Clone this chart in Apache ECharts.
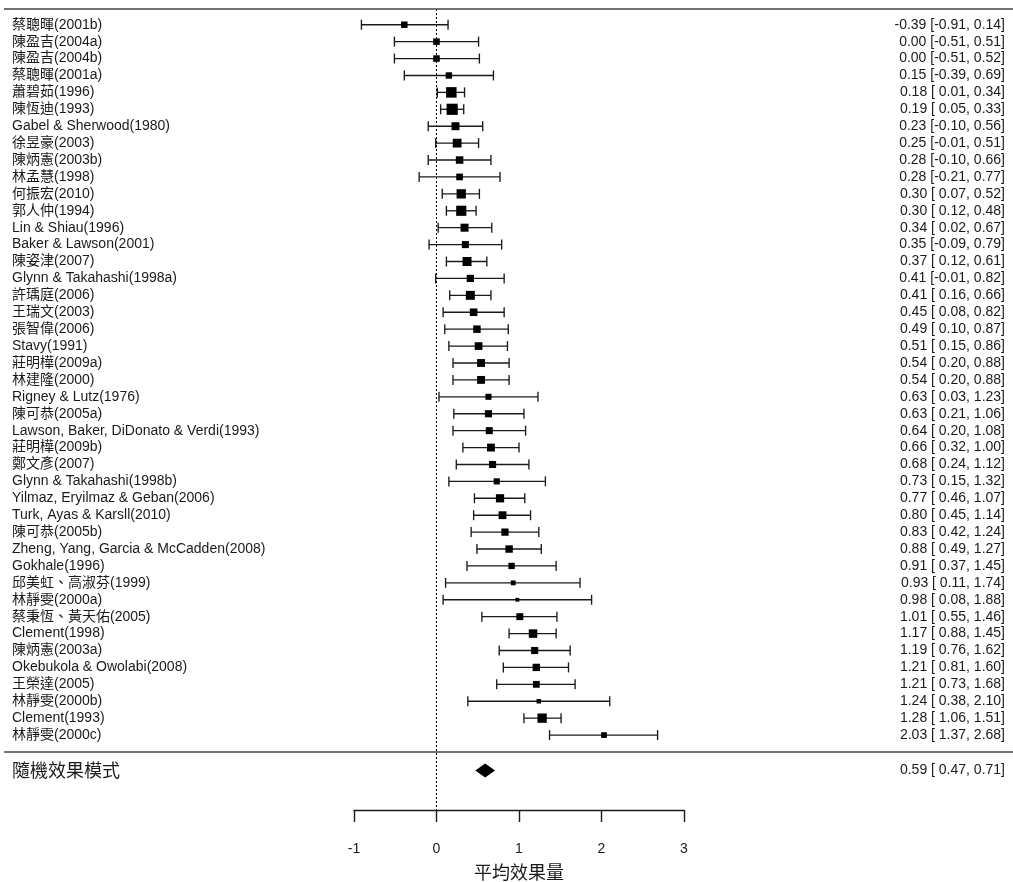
<!DOCTYPE html>
<html><head><meta charset="utf-8">
<script src="https://cdn.jsdelivr.net/npm/echarts@6/dist/echarts.min.js"></script>
<style>html,body{margin:0;padding:0;background:#fff}#c{width:1013px;height:882px}</style>
</head><body><div id="c"></div>
<script>
var studies = ["蔡聰暉(2001b)","陳盈吉(2004a)","陳盈吉(2004b)","蔡聰暉(2001a)","蕭碧茹(1996)","陳恆迪(1993)","Gabel & Sherwood(1980)","徐昱豪(2003)","陳炳憲(2003b)","林孟慧(1998)","何振宏(2010)","郭人仲(1994)","Lin & Shiau(1996)","Baker & Lawson(2001)","陳姿津(2007)","Glynn & Takahashi(1998a)","許瑀庭(2006)","王瑞文(2003)","張智偉(2006)","Stavy(1991)","莊明樺(2009a)","林建隆(2000)","Rigney & Lutz(1976)","陳可恭(2005a)","Lawson, Baker, DiDonato & Verdi(1993)","莊明樺(2009b)","鄭文彥(2007)","Glynn & Takahashi(1998b)","Yilmaz, Eryilmaz & Geban(2006)","Turk, Ayas & Karsll(2010)","陳可恭(2005b)","Zheng, Yang, Garcia & McCadden(2008)","Gokhale(1996)","邱美虹、高淑芬(1999)","林靜雯(2000a)","蔡秉恆、黃天佑(2005)","Clement(1998)","陳炳憲(2003a)","Okebukola & Owolabi(2008)","王榮達(2005)","林靜雯(2000b)","Clement(1993)","林靜雯(2000c)"];
var estimates = [-0.39,0.00,0.00,0.15,0.18,0.19,0.23,0.25,0.28,0.28,0.30,0.30,0.34,0.35,0.37,0.41,0.41,0.45,0.49,0.51,0.54,0.54,0.63,0.63,0.64,0.66,0.68,0.73,0.77,0.80,0.83,0.88,0.91,0.93,0.98,1.01,1.17,1.19,1.21,1.21,1.24,1.28,2.03];
var lowers = [-0.91,-0.51,-0.51,-0.39,0.01,0.05,-0.10,-0.01,-0.10,-0.21,0.07,0.12,0.02,-0.09,0.12,-0.01,0.16,0.08,0.10,0.15,0.20,0.20,0.03,0.21,0.20,0.32,0.24,0.15,0.46,0.45,0.42,0.49,0.37,0.11,0.08,0.55,0.88,0.76,0.81,0.73,0.38,1.06,1.37];
var uppers = [0.14,0.51,0.52,0.69,0.34,0.33,0.56,0.51,0.66,0.77,0.52,0.48,0.67,0.79,0.61,0.82,0.66,0.82,0.87,0.86,0.88,0.88,1.23,1.06,1.08,1.00,1.12,1.32,1.07,1.14,1.24,1.27,1.45,1.74,1.88,1.46,1.45,1.62,1.60,1.68,2.10,1.51,2.68];
var summaryLabel = "隨機效果模式";
var summaryEst = 0.59, summaryLower = 0.47, summaryUpper = 0.71;
var xTicks = [-1, 0, 1, 2, 3];
var xTitle = "平均效果量";

var latin = '"Liberation Sans", Arial, "Noto Sans CJK TC", sans-serif';
var ink = '#1a1a1a';
function f2(v){ return v.toFixed(2); }
function fl(v){ return (v < 0 ? '' : ' ') + v.toFixed(2); }
function ciText(e, l, u){ return f2(e) + ' [' + fl(l) + ', ' + f2(u) + ']'; }

// marker size from precision (inverse standard error from the CI)
var prec = lowers.map(function(l, i){ return 3.92 / (uppers[i] - l); });
var pMin = Math.min.apply(null, prec), pMax = Math.max.apply(null, prec);
function markSize(i){ var p = (prec[i] - pMin) / (pMax - pMin); return 3.8 + 7.4 * Math.sqrt(p); }

var rows = studies.map(function(s, i){ return [estimates[i], i + 1, lowers[i], uppers[i], i]; });
var SEP = 44, SUM = 45.1, YMIN = 0.07, YMAX = 47.43;

var chart = echarts.init(document.getElementById('c'), null, {renderer: 'canvas'});
chart.setOption({
  animation: false,
  backgroundColor: '#fff',
  grid: { left: 354, width: 330, top: 9, height: 801, outerBoundsMode: 'none', containLabel: false },
  xAxis: {
    type: 'value', min: xTicks[0], max: xTicks[xTicks.length - 1], interval: 1,
    position: 'bottom',
    axisLine: { show: true, lineStyle: { color: ink, width: 1.4 } },
    axisTick: { show: true, inside: false, length: 12, lineStyle: { color: ink, width: 1.4 } },
    axisLabel: { margin: 32, color: ink, fontSize: 14, fontFamily: latin },
    splitLine: { show: false },
    name: xTitle, nameLocation: 'middle', nameGap: 53,
    nameTextStyle: { fontSize: 18, color: ink, fontFamily: '"Noto Sans CJK TC", sans-serif' }
  },
  yAxis: { type: 'value', inverse: true, min: YMIN, max: YMAX, show: false },
  series: [
    {
      type: 'custom', name: 'rules', silent: true, clip: false,
      data: [[0, YMIN], [0, SEP]],
      renderItem: function(params, api){
        var y = api.coord([0, api.value(1)])[1];
        return { type: 'line', shape: { x1: 4, y1: y, x2: api.getWidth(), y2: y },
          style: { stroke: '#444', lineWidth: 1.6 } };
      },
      z: 1
    },
    {
      type: 'custom', name: 'ci', clip: false,
      data: rows,
      renderItem: function(params, api){
        var y = api.coord([0, api.value(1)])[1];
        var xl = api.coord([api.value(2), 0])[0];
        var xu = api.coord([api.value(3), 0])[0];
        var i = api.value(4);
        var st = { stroke: ink, lineWidth: 1.35 };
        return { type: 'group', children: [
          { type: 'line', shape: { x1: xl, y1: y, x2: xu, y2: y }, style: st },
          { type: 'line', shape: { x1: xl, y1: y - 5, x2: xl, y2: y + 5 }, style: st },
          { type: 'line', shape: { x1: xu, y1: y - 5, x2: xu, y2: y + 5 }, style: st },
          { type: 'text', x: 12, y: y, style: { text: studies[i], fill: ink, font: '14px ' + latin, textAlign: 'left', textVerticalAlign: 'middle' } },
          { type: 'text', x: 1005, y: y, style: { text: ciText(estimates[i], lowers[i], uppers[i]), fill: ink, font: '14px ' + latin, textAlign: 'right', textVerticalAlign: 'middle' } }
        ]};
      },
      z: 3
    },
    {
      type: 'scatter', name: 'est', data: rows, symbol: 'rect',
      symbolSize: function(v){ return markSize(v[4]); },
      itemStyle: { color: '#000', opacity: 1 }, z: 4,
      markLine: {
        silent: true, symbol: 'none', label: { show: false },
        lineStyle: { type: [2, 2], color: '#000', width: 1 },
        data: [{ xAxis: 0 }]
      }
    },
    {
      type: 'custom', name: 'summary', clip: false,
      data: [[summaryEst, SUM, summaryLower, summaryUpper]],
      renderItem: function(params, api){
        var c = api.coord([api.value(0), api.value(1)]);
        var xl = api.coord([api.value(2), 0])[0];
        var xu = api.coord([api.value(3), 0])[0];
        var h = 7;
        return { type: 'group', children: [
          { type: 'polygon', shape: { points: [[xl, c[1]], [c[0], c[1] - h], [xu, c[1]], [c[0], c[1] + h]] }, style: { fill: '#000' } },
          { type: 'text', x: 12, y: c[1], style: { text: summaryLabel, fill: ink, font: '18px "Noto Sans CJK TC", sans-serif', textAlign: 'left', textVerticalAlign: 'middle' } },
          { type: 'text', x: 1005, y: c[1], style: { text: ciText(summaryEst, summaryLower, summaryUpper), fill: ink, font: '14px ' + latin, textAlign: 'right', textVerticalAlign: 'middle' } }
        ]};
      },
      z: 4
    }
  ]
});
</script></body></html>
